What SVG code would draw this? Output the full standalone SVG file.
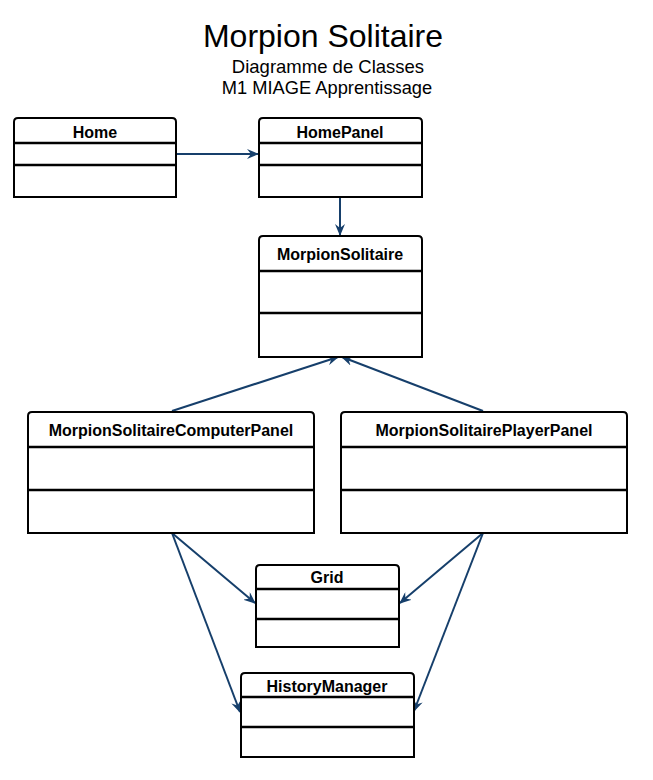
<svg xmlns="http://www.w3.org/2000/svg" width="653" height="780" viewBox="0 0 653 780">
<style>
.box{fill:#fff;stroke:#000;stroke-width:2}
.div{stroke:#000;stroke-width:2.5}
.name{font-family:"Liberation Sans",Arial,sans-serif;font-weight:bold;font-size:16px;text-anchor:middle;fill:#000}
.title{font-family:"Liberation Sans",Arial,sans-serif;text-anchor:middle;fill:#000}
.edge{stroke:#163f6b;stroke-width:2;fill:none;marker-end:url(#arr)}
</style>
<defs>
<marker id="arr" viewBox="0 0 12 10" refX="11" refY="5" markerWidth="12" markerHeight="10" markerUnits="userSpaceOnUse" orient="auto">
<path d="M0,0 L12,5 L0,10 L4,5 Z" fill="#163f6b"/>
</marker>
</defs>
<rect width="653" height="780" fill="#fff"/>
<g id="title">
<text class="title" x="323" y="47" font-size="32">Morpion Solitaire</text>
<text class="title" x="328" y="73" font-size="18.5">Diagramme de Classes</text>
<text class="title" x="327" y="94" font-size="18.3">M1 MIAGE Apprentissage</text>
</g>
<g id="connectors">
<line class="edge" x1="176" y1="154" x2="258" y2="154"/>
<line class="edge" x1="340" y1="197" x2="340" y2="235"/>
<line class="edge" x1="172" y1="411" x2="338" y2="357"/>
<line class="edge" x1="483" y1="411" x2="342" y2="357"/>
<line class="edge" x1="172" y1="533" x2="255" y2="603"/>
<line class="edge" x1="172" y1="533" x2="240" y2="712"/>
<line class="edge" x1="483" y1="533" x2="400" y2="603"/>
<line class="edge" x1="483" y1="533" x2="414" y2="711"/>
</g>
<g id="Home">
<path class="box" d="M14,197 V122 Q14,118 18,118 H172 Q176,118 176,122 V197 Z"/>
<line class="div" x1="14" y1="143" x2="176" y2="143"/>
<line class="div" x1="14" y1="165" x2="176" y2="165"/>
<text class="name" x="95" y="138">Home</text>
</g>
<g id="HomePanel">
<path class="box" d="M259,197 V122 Q259,118 263,118 H418 Q422,118 422,122 V197 Z"/>
<line class="div" x1="259" y1="143" x2="422" y2="143"/>
<line class="div" x1="259" y1="165" x2="422" y2="165"/>
<text class="name" x="340" y="138">HomePanel</text>
</g>
<g id="MorpionSolitaire">
<path class="box" d="M259,357 V240 Q259,236 263,236 H418 Q422,236 422,240 V357 Z"/>
<line class="div" x1="259" y1="271" x2="422" y2="271"/>
<line class="div" x1="259" y1="313" x2="422" y2="313"/>
<text class="name" x="340" y="260">MorpionSolitaire</text>
</g>
<g id="MorpionSolitaireComputerPanel">
<path class="box" d="M28,533 V416 Q28,412 32,412 H310 Q314,412 314,416 V533 Z"/>
<line class="div" x1="28" y1="447" x2="314" y2="447"/>
<line class="div" x1="28" y1="490" x2="314" y2="490"/>
<text class="name" x="171" y="436">MorpionSolitaireComputerPanel</text>
</g>
<g id="MorpionSolitairePlayerPanel">
<path class="box" d="M341,533 V416 Q341,412 345,412 H623 Q627,412 627,416 V533 Z"/>
<line class="div" x1="341" y1="447" x2="627" y2="447"/>
<line class="div" x1="341" y1="490" x2="627" y2="490"/>
<text class="name" x="484" y="436">MorpionSolitairePlayerPanel</text>
</g>
<g id="Grid">
<path class="box" d="M256,647 V569 Q256,565 260,565 H395 Q399,565 399,569 V647 Z"/>
<line class="div" x1="256" y1="589" x2="399" y2="589"/>
<line class="div" x1="256" y1="619" x2="399" y2="619"/>
<text class="name" x="327" y="583">Grid</text>
</g>
<g id="HistoryManager">
<path class="box" d="M241,757 V677 Q241,673 245,673 H410 Q414,673 414,677 V757 Z"/>
<line class="div" x1="241" y1="697" x2="414" y2="697"/>
<line class="div" x1="241" y1="727" x2="414" y2="727"/>
<text class="name" x="327" y="692">HistoryManager</text>
</g>
</svg>
